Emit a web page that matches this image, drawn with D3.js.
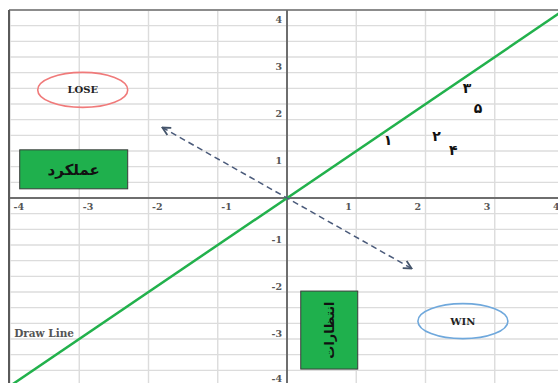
<!DOCTYPE html>
<html>
<head>
<meta charset="utf-8">
<script src="https://cdn.jsdelivr.net/npm/d3@7"></script>
<style>
  html, body { margin: 0; padding: 0; background: #fff; overflow: hidden; }
  svg { display: block; }
</style>
</head>
<body>
<svg id="chart" width="558" height="383"></svg>
<script>
// ---- data ----
const xTicks = [-4, -3, -2, -1, 1, 2, 3, 4];
const yTicks = [-4, -3, -2, -1, 1, 2, 3, 4];
const pointLabels = ['۱', '۲', '۳', '۴', '۵'];
const pointX = [1.46, 2.16, 2.6, 2.4, 2.76];
const pointY = [1.23, 1.32, 2.34, 1.02, 1.91];
const drawLineX = [-4, 4];
const drawLineY = [-4, 4];
const arrowX = [-1.8, 1.8];
const arrowY = [1.5, -1.5];
const ellipseLabels = ['LOSE', 'WIN'];
const ellipseX = [-2.95, 2.54];
const ellipseY = [2.3, -2.62];
const boxLabels = ['عملکرد', 'انتظارات'];
const boxX = [-3.08, 0.61];
const boxY = [0.61, -2.81];

// ---- layout ----
const svg = d3.select('#chart');
const x = d3.scaleLinear().domain([-4, 4]).range([10, 564]);
const y = d3.scaleLinear().domain([-4, 4]).range([386, 10]);
const labelFont = '"DejaVu Serif", "Liberation Serif", serif';
const arabicFont = '"DejaVu Sans", sans-serif';
const fmt = d => String(d);

// gridlines
const grid = svg.append('g');
grid.selectAll('line.h').data(d3.range(-12, 13).map(i => i / 3)).join('line')
  .attr('x1', x(-4)).attr('x2', x(4))
  .attr('y1', d => y(d)).attr('y2', d => y(d))
  .attr('stroke', '#dcdcdc').attr('stroke-width', 1.4);
grid.selectAll('line.v').data(d3.range(-4, 5)).join('line')
  .attr('y1', y(4)).attr('y2', y(-4))
  .attr('x1', d => x(d)).attr('x2', d => x(d))
  .attr('stroke', '#dcdcdc').attr('stroke-width', 1.4);

// plot border (top & left)
svg.append('line').attr('x1', x(-4) - 1).attr('x2', 558).attr('y1', y(4)).attr('y2', y(4))
  .attr('stroke', '#8c8c8c').attr('stroke-width', 2);
svg.append('line').attr('x1', x(-4) - 1).attr('x2', x(-4) - 1).attr('y1', y(4)).attr('y2', 383)
  .attr('stroke', '#5a5a5a').attr('stroke-width', 2);

// axes lines
svg.append('line').attr('x1', x(-4)).attr('x2', x(4)).attr('y1', y(0)).attr('y2', y(0))
  .attr('stroke', '#6e6e6e').attr('stroke-width', 2);
svg.append('line').attr('x1', x(0)).attr('x2', x(0)).attr('y1', y(4)).attr('y2', y(-4))
  .attr('stroke', '#6e6e6e').attr('stroke-width', 2);

// x tick labels via axis
const xAxis = svg.append('g').attr('transform', `translate(0,${y(0)})`)
  .call(d3.axisBottom(x).tickValues(xTicks).tickSize(0).tickFormat(fmt));
xAxis.select('.domain').remove();
xAxis.selectAll('text')
  .attr('font-family', labelFont).attr('font-weight', 'bold').attr('font-size', 9.5)
  .attr('fill', '#555')
  .attr('text-anchor', d => d < 0 ? 'start' : 'end')
  .attr('x', d => d < 0 ? 3 : -5)
  .attr('y', 5).attr('dy', '0.71em');

// y tick labels via axis
const yAxis = svg.append('g').attr('transform', `translate(${x(0)},0)`)
  .call(d3.axisLeft(y).tickValues(yTicks).tickSize(0).tickFormat(fmt));
yAxis.select('.domain').remove();
yAxis.selectAll('text')
  .attr('font-family', labelFont).attr('font-weight', 'bold').attr('font-size', 9.5)
  .attr('fill', '#555')
  .attr('text-anchor', 'end')
  .attr('x', -5)
  .attr('y', d => d > 0 ? 9 : (d === -4 ? -8 : -6)).attr('dy', '0.35em');

// green draw line
svg.append('line')
  .attr('x1', x(drawLineX[0])).attr('y1', y(drawLineY[0]))
  .attr('x2', x(drawLineX[1])).attr('y2', y(drawLineY[1]))
  .attr('stroke', '#22b14c').attr('stroke-width', 2.5);

// dashed double arrow
const defs = svg.append('defs');
defs.append('marker').attr('id', 'ah').attr('viewBox', '0 0 10 10')
  .attr('refX', 9).attr('refY', 5).attr('markerWidth', 10).attr('markerHeight', 10)
  .attr('markerUnits', 'userSpaceOnUse').attr('orient', 'auto-start-reverse')
  .append('path').attr('d', 'M1,1 L9,5 L1,9').attr('fill', 'none')
  .attr('stroke', '#44546a').attr('stroke-width', 1.8);
svg.append('line')
  .attr('x1', x(arrowX[0])).attr('y1', y(arrowY[0]))
  .attr('x2', x(arrowX[1])).attr('y2', y(arrowY[1]))
  .attr('stroke', '#4a5a7a').attr('stroke-width', 1.5)
  .attr('stroke-dasharray', '6,4')
  .attr('marker-start', 'url(#ah)').attr('marker-end', 'url(#ah)');

// point labels
svg.selectAll('text.pt').data(pointLabels).join('text')
  .attr('class', 'pt')
  .attr('x', (d, i) => x(pointX[i])).attr('y', (d, i) => y(pointY[i]))
  .attr('dy', '0.35em').attr('text-anchor', 'middle')
  .attr('font-family', arabicFont).attr('font-weight', 'bold').attr('font-size', 14)
  .attr('fill', '#111').text(d => d);

// ellipses
const ellColors = ['#f07a7a', '#6fa8dc'];
const ell = svg.selectAll('g.ell').data(ellipseLabels).join('g')
  .attr('transform', (d, i) => `translate(${x(ellipseX[i])},${y(ellipseY[i])})`);
ell.append('ellipse').attr('rx', 45).attr('ry', 17.5)
  .attr('fill', 'none').attr('stroke', (d, i) => ellColors[i]).attr('stroke-width', 1.6);
ell.append('text').attr('text-anchor', 'middle').attr('dy', '0.35em')
  .attr('font-family', labelFont).attr('font-weight', 'bold').attr('font-size', 10)
  .attr('fill', '#222').text(d => d);

// green boxes
const boxSizes = [[108, 39], [57, 78]];
const boxRot = [0, -90];
const boxFont = [15, 13];
const box = svg.selectAll('g.box').data(boxLabels).join('g')
  .attr('transform', (d, i) => `translate(${x(boxX[i])},${y(boxY[i])})`);
box.append('rect')
  .attr('x', (d, i) => -boxSizes[i][0] / 2).attr('y', (d, i) => -boxSizes[i][1] / 2)
  .attr('width', (d, i) => boxSizes[i][0]).attr('height', (d, i) => boxSizes[i][1])
  .attr('fill', '#1fb04d').attr('stroke', '#3a3a3a').attr('stroke-width', 1);
box.append('text').attr('text-anchor', 'middle').attr('dy', '0.35em')
  .attr('transform', (d, i) => `rotate(${boxRot[i]})`)
  .attr('direction', 'rtl')
  .attr('font-family', arabicFont).attr('font-weight', 'bold')
  .attr('font-size', (d, i) => boxFont[i])
  .attr('fill', '#111').text(d => d);

// Draw Line label
svg.append('text').attr('x', x(-3.94)).attr('y', y(-2.87)).attr('dy', '0.35em')
  .attr('font-family', labelFont).attr('font-weight', 'bold').attr('font-size', 10.5)
  .attr('fill', '#555').text('Draw Line');
</script>
</body>
</html>
